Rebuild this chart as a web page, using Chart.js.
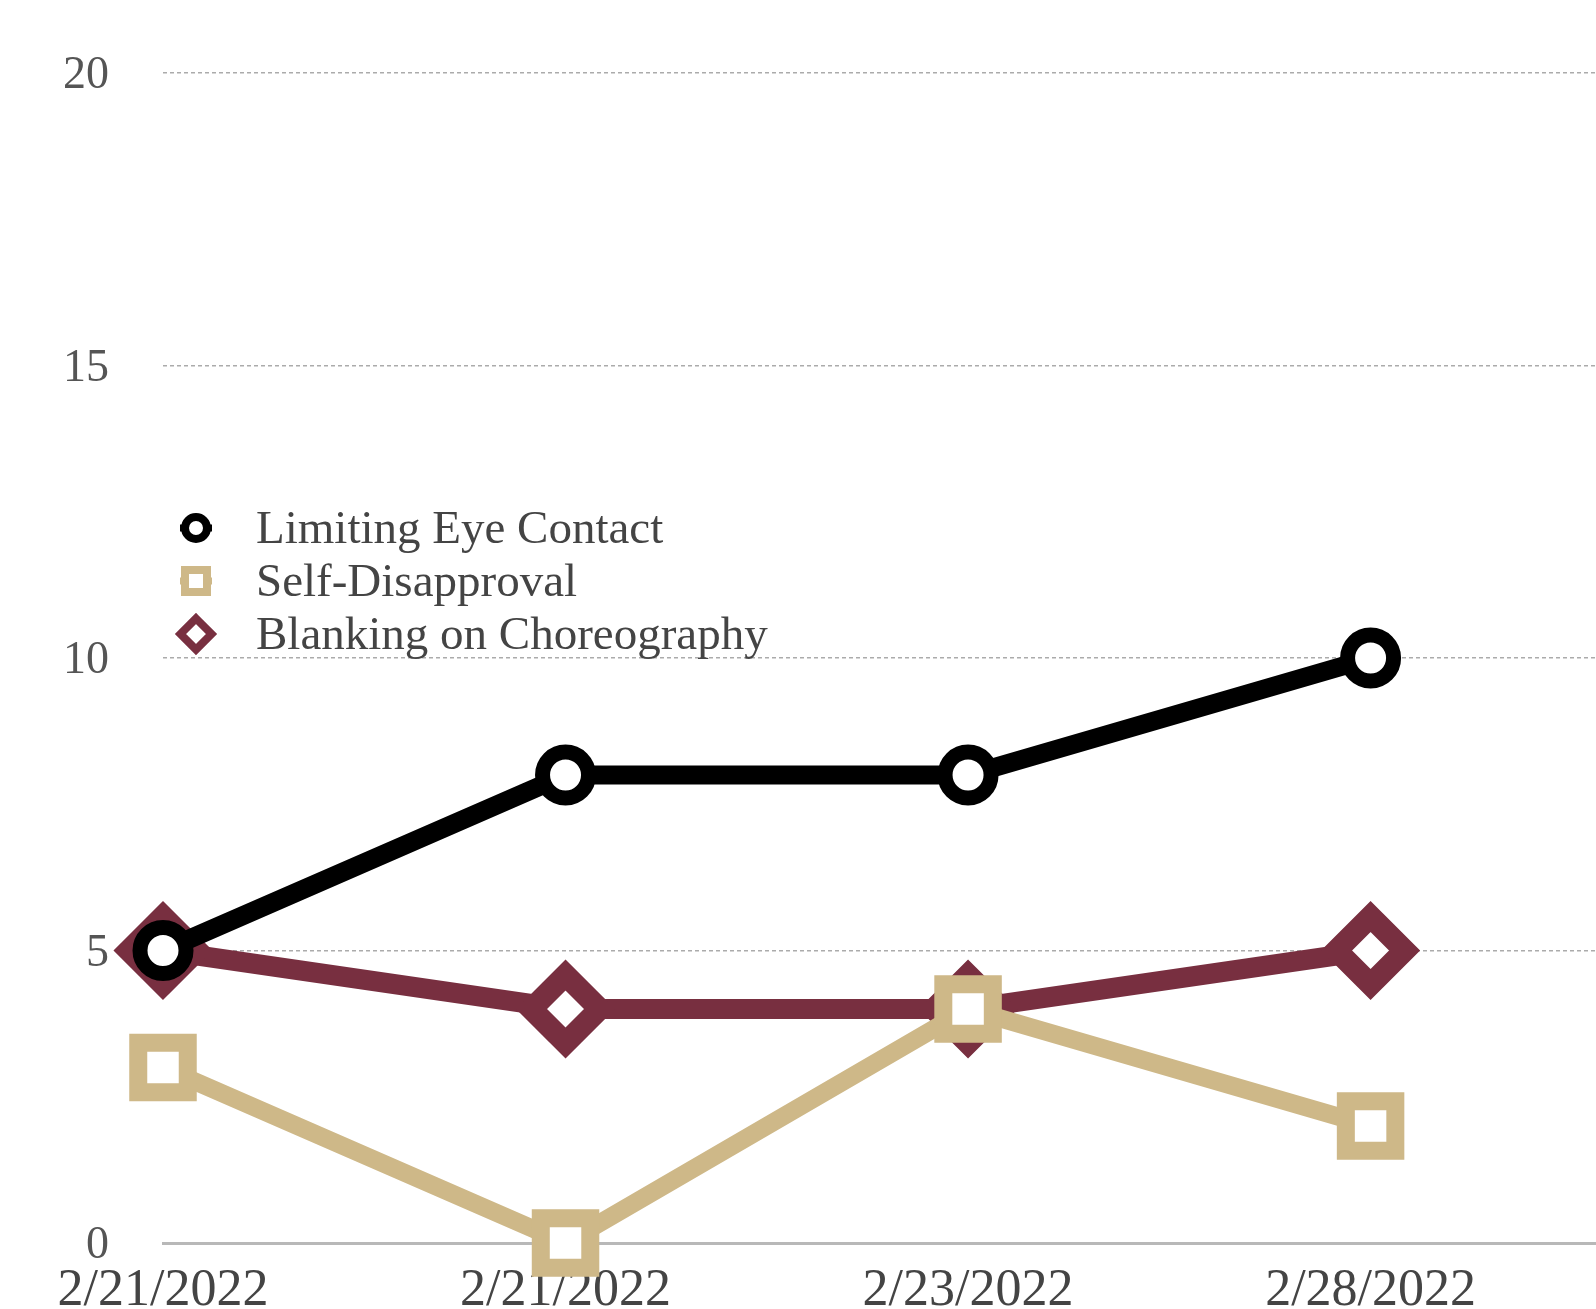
<!DOCTYPE html>
<html>
<head>
<meta charset="utf-8">
<script src="https://cdn.jsdelivr.net/npm/chart.js@4.4.1/dist/chart.umd.min.js"></script>
<style>
  html, body { margin: 0; padding: 0; background: #fff; overflow: hidden; }
  #wrap { position: relative; width: 1596px; height: 1309px; }
  #legend { position: absolute; left: 172px; top: 501px; font-family: "Liberation Serif", serif; font-size: 47px; color: #444; }
  .row { display: flex; align-items: center; height: 53px; }
  .row svg { width: 48px; height: 48px; margin-right: 36px; }
  .row span { line-height: 53px; white-space: nowrap; }
</style>
</head>
<body>
<div id="wrap">
  <canvas id="c" width="1596" height="1309"></canvas>
  <div id="legend"></div>
</div>
<script>
// ---- data ----
const dateLabels = ["2/21/2022", "2/21/2022", "2/23/2022", "2/28/2022"];
const eyeContact = [5, 8, 8, 10];
const selfDisapproval = [3, 0, 4, 2];
const blanking = [5, 4, 4, 5];
const seriesNames = ["Limiting Eye Contact", "Self-Disapproval", "Blanking on Choreography"];
const yTicks = [0, 5, 10, 15, 20];

const BLACK = "#000000", GOLD = "#CEB888", GARNET = "#782F40";

function pts(arr) { return arr.map((v, i) => ({ x: i, y: v })); }

const datasets = [
  {
    label: seriesNames[0], data: pts(eyeContact),
    borderColor: BLACK, backgroundColor: "#ffffff", borderWidth: 19,
    pointStyle: "circle", pointRadius: 23, pointHoverRadius: 23,
    pointBorderWidth: 15, pointHoverBorderWidth: 15,
    pointBackgroundColor: "#ffffff", pointBorderColor: BLACK, clip: false, tension: 0
  },
  {
    label: seriesNames[1], data: pts(selfDisapproval),
    borderColor: GOLD, backgroundColor: "#ffffff", borderWidth: 18,
    pointStyle: "rect", pointRadius: 35, pointHoverRadius: 35,
    pointBorderWidth: 18, pointHoverBorderWidth: 18,
    pointBackgroundColor: "#ffffff", pointBorderColor: GOLD, clip: false, tension: 0
  },
  {
    label: seriesNames[2], data: pts(blanking),
    borderColor: GARNET, backgroundColor: "#ffffff", borderWidth: 20,
    pointStyle: "rectRot", pointRadius: 34, pointHoverRadius: 34,
    pointBorderWidth: 22, pointHoverBorderWidth: 22,
    pointBackgroundColor: "#ffffff", pointBorderColor: GARNET, clip: false, tension: 0
  }
];

function zeroPad(s) { s.paddingTop = 0; s.paddingBottom = 0; }

new Chart(document.getElementById("c"), {
  type: "line",
  data: { datasets },
  options: {
    responsive: false,
    animation: false,
    events: [],
    layout: { autoPadding: false, padding: { left: 0, right: 0, top: 73, bottom: 0 } },
    plugins: { legend: { display: false }, tooltip: { enabled: false } },
    scales: {
      x: {
        type: "linear", min: 0, max: 3.56,
        grid: { display: false, drawTicks: false },
        border: { display: true, color: "#b8b8b8", width: 3 },
        ticks: {
          stepSize: 1, includeBounds: false, padding: 17, autoSkip: false, maxRotation: 0,
          color: "#444", font: { family: "Liberation Serif", size: 52 },
          callback: (v) => Number.isInteger(v) && v < dateLabels.length ? dateLabels[v] : ""
        },
        afterFit: (s) => { s.height = 66; zeroPad(s); }
      },
      y: {
        min: yTicks[0], max: yTicks[yTicks.length - 1],
        grid: {
          drawTicks: false, lineWidth: 1.5,
          color: (ctx) => ctx.tick && ctx.tick.value === 0 ? "rgba(0,0,0,0)" : "#ababab"
        },
        border: { display: false, dash: [4, 3] },
        ticks: {
          stepSize: 5, padding: 54, color: "#555", labelOffset: 3,
          font: { family: "Liberation Serif", size: 46 }
        },
        afterBuildTicks: (s) => { s.ticks = yTicks.map(v => ({ value: v })); },
        afterFit: (s) => { s.width = 163; zeroPad(s); }
      }
    }
  }
});

// HTML legend
const symbols = [
  `<svg viewBox="-24 -24 48 48"><line x1="-16" y1="0" x2="16" y2="0" stroke="${BLACK}" stroke-width="7"/><circle cx="0" cy="0" r="11" fill="#fff" stroke="${BLACK}" stroke-width="8"/></svg>`,
  `<svg viewBox="-24 -24 48 48"><line x1="-16" y1="0" x2="16" y2="0" stroke="${GOLD}" stroke-width="7"/><rect x="-11" y="-11" width="22" height="22" fill="#fff" stroke="${GOLD}" stroke-width="8"/></svg>`,
  `<svg viewBox="-24 -24 48 48"><polygon points="0,-15.5 15.5,0 0,15.5 -15.5,0" fill="#fff" stroke="${GARNET}" stroke-width="8"/></svg>`
];
document.getElementById("legend").innerHTML = seriesNames.map((n, i) =>
  `<div class="row">${symbols[i]}<span>${n}</span></div>`).join("");
</script>
</body>
</html>
